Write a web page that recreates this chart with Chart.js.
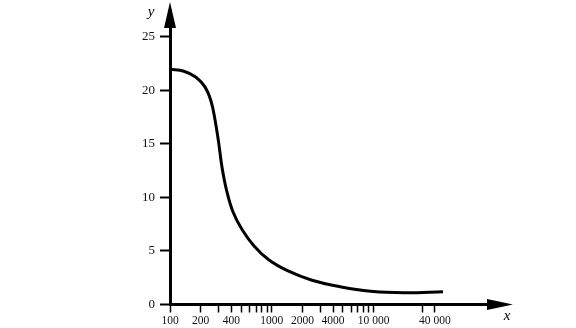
<!DOCTYPE html>
<html>
<head>
<meta charset="utf-8">
<script src="https://cdn.jsdelivr.net/npm/chart.js@4.4.1/dist/chart.umd.min.js"></script>
<style>
  html, body { margin: 0; padding: 0; background: #fff; }
  #wrap { width: 576px; height: 328px; }
</style>
</head>
<body>
<div id="wrap"><canvas id="myChart" width="576" height="328"></canvas></div>
<script>
// curve (x on log axis)
const xValues = [100, 137, 180, 221, 253, 277, 300, 324, 359, 416, 510, 669, 939, 1443, 2483, 4677, 9865, 20810, 48050];
const yValues = [21.97, 21.78, 21.22, 20.29, 18.98, 17.23, 15.16, 12.83, 10.68, 8.63, 7.0, 5.46, 4.15, 3.13, 2.26, 1.66, 1.21, 1.10, 1.19];

// x ticks: every tick mark, and the ones that carry a label
const xTickValues = [100, 200, 300, 400, 500, 600, 700, 800, 900, 1000, 2000, 3000, 4000, 5000, 6000, 7000, 8000, 9000, 10000, 30000, 40000];
const xTickLabels = { 100: '100', 200: '200', 400: '400', 1000: '1000', 2000: '2000', 4000: '4000', 10000: '10 000', 40000: '40 000' };
const yTickValues = [0, 5, 10, 15, 20, 25];

const points = xValues.map((x, i) => ({ x: x, y: yValues[i] }));

// arrows and axis names
const axisArrows = {
    id: 'axisArrows',
    afterDraw(chart) {
        const c = chart.ctx;
        const a = chart.chartArea;
        c.save();
        c.fillStyle = '#000';
        // x arrow
        c.beginPath();
        c.moveTo(a.right - 3, a.bottom - 5.5);
        c.lineTo(a.right + 23, a.bottom);
        c.lineTo(a.right - 3, a.bottom + 5.5);
        c.closePath();
        c.fill();
        // y arrow
        c.beginPath();
        c.moveTo(a.left - 6, a.top + 2);
        c.lineTo(a.left, a.top - 24);
        c.lineTo(a.left + 6, a.top + 2);
        c.closePath();
        c.fill();
        c.font = 'italic 15px "Liberation Serif"';
        c.textAlign = 'center';
        c.textBaseline = 'middle';
        c.fillText('x', 507, 316);
        c.fillText('y', 151, 12);
        c.restore();
    }
};

const ctx = document.getElementById('myChart');

const myChart = new Chart(ctx, {
    type: 'line',
    data: {
        datasets: [{
            data: points,
            borderColor: '#000',
            borderWidth: 3,
            pointRadius: 0,
            tension: 0.4,
            fill: false
        }]
    },
    options: {
        responsive: false,
        animation: false,
        layout: { padding: { top: 26, right: 86, left: 0, bottom: 0 } },
        plugins: { legend: { display: false }, tooltip: { enabled: false } },
        scales: {
            x: {
                type: 'logarithmic',
                min: 100,
                max: 139000,
                afterBuildTicks: s => { s.ticks = xTickValues.map(v => ({ value: v })); },
                afterFit: s => { s.height = 23.5; },
                border: { display: true, color: '#000', width: 3 },
                grid: { drawOnChartArea: false, drawTicks: true, tickLength: 8, tickWidth: 1.5, color: '#000' },
                ticks: {
                    autoSkip: false,
                    maxRotation: 0,
                    padding: 2,
                    color: '#111',
                    font: { family: '"Liberation Serif"', size: 11.5 },
                    callback: v => xTickLabels[v] || ''
                }
            },
            y: {
                min: 0,
                max: 26,
                afterBuildTicks: s => { s.ticks = yTickValues.map(v => ({ value: v })); },
                afterFit: s => { s.width = 170; },
                border: { display: true, color: '#000', width: 3 },
                grid: { drawOnChartArea: false, drawTicks: true, tickLength: 10, tickWidth: 2, color: '#000' },
                ticks: {
                    padding: 5,
                    color: '#111',
                    font: { family: '"Liberation Serif"', size: 13 }
                }
            }
        }
    },
    plugins: [axisArrows]
});
</script>
</body>
</html>
